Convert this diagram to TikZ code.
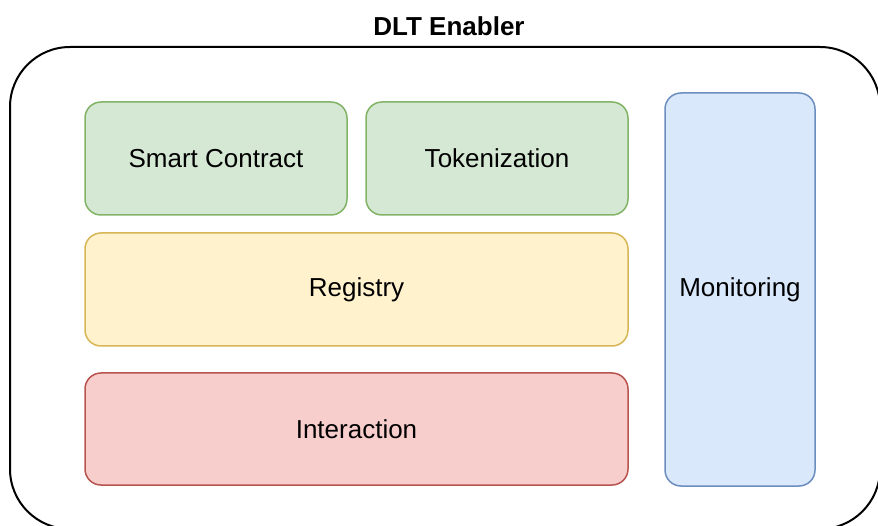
\documentclass[tikz,border=0pt]{standalone}
\usepackage{fontspec}
\setmainfont{Liberation Sans}
\definecolor{gfill}{HTML}{D5E8D4}\definecolor{gline}{HTML}{82B366}
\definecolor{yfill}{HTML}{FFF2CC}\definecolor{yline}{HTML}{D6B656}
\definecolor{rfill}{HTML}{F8CECC}\definecolor{rline}{HTML}{B85450}
\definecolor{bfill}{HTML}{DAE8FC}\definecolor{bline}{HTML}{6C8EBF}
\tikzset{
  blk/.style={draw, line width=1.5pt, rounded corners=16pt, inner sep=0pt,
    font=\fontsize{26}{30}\selectfont},
  green/.style={blk, fill=gfill, draw=gline},
  yellow/.style={blk, fill=yfill, draw=yline},
  red/.style={blk, fill=rfill, draw=rline},
  blue/.style={blk, fill=bfill, draw=bline},
}
\begin{document}
\begin{tikzpicture}[x=1pt,y=-1pt]
\useasboundingbox (0,0) rectangle (878,526);
\begin{scope}
\clip (0,0) rectangle (878,526);
\draw[line width=2pt, rounded corners=60pt] (10,47) rectangle (880,529);
\end{scope}
\node[font=\bfseries\fontsize{26}{30}\selectfont] (title) at (449,26) {DLT Enabler};
\node[green, minimum width=262pt, minimum height=113pt] (sc) at (216,158.5) {Smart Contract};
\node[green, minimum width=262pt, minimum height=113pt] (tok) at (497,158.5) {Tokenization};
\node[yellow, minimum width=543pt, minimum height=113pt] (reg) at (356.5,289.5) {\raisebox{-2pt}{Registry}};
\node[red, minimum width=543pt, minimum height=112pt] (int) at (356.5,429) {Interaction};
\node[blue, minimum width=150pt, minimum height=393pt] (mon) at (740,289.5) {\raisebox{-2pt}{Monitoring}};
\end{tikzpicture}
\end{document}
